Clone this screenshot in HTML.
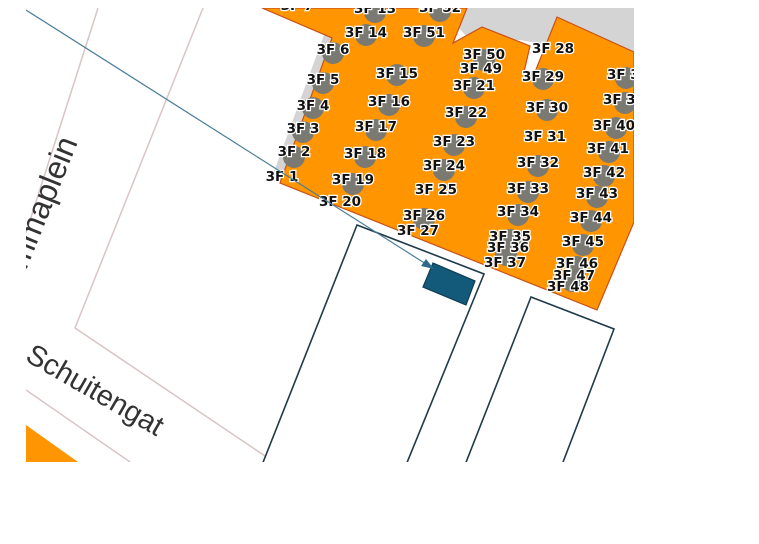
<!DOCTYPE html>
<html><head><meta charset="utf-8"><style>
html,body{margin:0;padding:0;background:#fff;width:759px;height:544px;overflow:hidden}
svg{display:block}
.l{font-family:"DejaVu Sans","Liberation Sans",sans-serif;font-weight:bold;font-size:13.5px;fill:#111;stroke:#fff;stroke-width:2.5px;paint-order:stroke;text-anchor:middle;dominant-baseline:central}
</style></head><body>
<svg width="759" height="544" viewBox="0 0 759 544" xmlns="http://www.w3.org/2000/svg">
<defs><clipPath id="c"><rect x="26" y="8" width="608" height="454"/></clipPath></defs>
<g clip-path="url(#c)">
<rect x="26" y="8" width="608" height="454" fill="#fff"/>
<g stroke="#d9c4c4" stroke-width="1.5" fill="none">
<line x1="26" y1="233" x2="98" y2="8"/>
<polyline points="203,8 75,328 265,456"/>
<line x1="26" y1="390" x2="130" y2="462"/>
</g>
<text x="0" y="0" transform="translate(78,142) rotate(-68)" font-family="Liberation Sans,sans-serif" font-size="32" fill="#333" text-anchor="end">Ammaplein</text>
<text x="0" y="0" transform="translate(24,360) rotate(30)" font-family="Liberation Sans,sans-serif" font-size="29" fill="#333">Schuitengat</text>
<polygon points="26,425 26,462 78,462" fill="#ff9500"/>
<polygon points="440,8 634,8 634,60 520,40 470,40" fill="#d4d4d4"/>
<polygon points="324,35 332,38 280,183 271,180" fill="#d4d4d4"/>
<polygon points="262,8 332,38 280,183 597,310 634,222 634,52 557,17 535,72 524,72 530,46 482,27 453,43 467,8" fill="#ff9500" stroke="#c8501a" stroke-width="1.2"/>
<g fill="#7a7a72">
<circle cx="375" cy="12" r="11"/><circle cx="440" cy="11" r="11"/><circle cx="366" cy="35" r="11"/><circle cx="424" cy="36" r="11"/><circle cx="333" cy="53" r="11"/><circle cx="484" cy="60" r="11"/><circle cx="323" cy="83" r="11"/><circle cx="397" cy="75" r="11"/><circle cx="474" cy="88" r="11"/><circle cx="543" cy="79" r="11"/><circle cx="626" cy="78" r="11"/><circle cx="313" cy="108" r="11"/><circle cx="389" cy="105" r="11"/><circle cx="466" cy="117" r="11"/><circle cx="547" cy="110" r="11"/><circle cx="625" cy="103" r="11"/><circle cx="303" cy="132" r="11"/><circle cx="376" cy="130" r="11"/><circle cx="454" cy="145" r="11"/><circle cx="616" cy="128" r="11"/><circle cx="294" cy="157" r="11"/><circle cx="365" cy="157" r="11"/><circle cx="444" cy="170" r="11"/><circle cx="538" cy="166" r="11"/><circle cx="609" cy="152" r="11"/><circle cx="353" cy="184" r="11"/><circle cx="528" cy="192" r="11"/><circle cx="604" cy="176" r="11"/><circle cx="597" cy="197" r="11"/><circle cx="424" cy="219" r="11"/><circle cx="518" cy="215" r="11"/><circle cx="591" cy="221" r="11"/><circle cx="510" cy="240" r="11"/><circle cx="583" cy="245" r="11"/><circle cx="506" cy="255" r="11"/><circle cx="577" cy="267" r="11"/><circle cx="572" cy="281" r="11"/>
</g>
<g class="l">
<text x="297" y="6">3F 7</text><text x="375" y="9">3F 13</text><text x="440" y="8">3F 52</text>
<text x="366" y="33">3F 14</text><text x="424" y="33">3F 51</text><text x="333" y="50">3F 6</text>
<text x="484" y="55">3F 50</text><text x="553" y="49">3F 28</text><text x="481" y="69">3F 49</text>
<text x="323" y="80">3F 5</text><text x="397" y="74">3F 15</text><text x="474" y="86">3F 21</text>
<text x="543" y="77">3F 29</text><text x="628" y="75">3F 38</text>
<text x="313" y="106">3F 4</text><text x="389" y="102">3F 16</text><text x="466" y="113">3F 22</text>
<text x="547" y="108">3F 30</text><text x="624" y="100">3F 39</text>
<text x="303" y="129">3F 3</text><text x="376" y="127">3F 17</text><text x="454" y="142">3F 23</text>
<text x="545" y="137">3F 31</text><text x="614" y="126">3F 40</text>
<text x="294" y="152">3F 2</text><text x="365" y="154">3F 18</text><text x="444" y="166">3F 24</text>
<text x="538" y="163">3F 32</text><text x="608" y="149">3F 41</text>
<text x="282" y="177">3F 1</text><text x="353" y="180">3F 19</text><text x="436" y="190">3F 25</text>
<text x="528" y="189">3F 33</text><text x="604" y="173">3F 42</text><text x="597" y="194">3F 43</text>
<text x="340" y="202">3F 20</text><text x="424" y="216">3F 26</text><text x="518" y="212">3F 34</text>
<text x="591" y="218">3F 44</text><text x="418" y="231">3F 27</text><text x="510" y="237">3F 35</text>
<text x="583" y="242">3F 45</text><text x="508" y="248">3F 36</text><text x="505" y="263">3F 37</text>
<text x="577" y="264">3F 46</text><text x="574" y="276">3F 47</text><text x="568" y="287">3F 48</text>
</g>
<g fill="#fff" stroke="#1f3a4a" stroke-width="1.6">
<polygon points="357,225 484,274 404,470 260,470"/>
<polygon points="531,297 614,329 560,470 463,470"/>
</g>
<polygon points="433,263 475,281 466,305 423,287" fill="#135a7a" stroke="#0d3a50" stroke-width="1.2"/>
<line x1="26" y1="10" x2="426" y2="264" stroke="#4a7d9a" stroke-width="1.2"/>
<polygon points="434,269 421,266 426,259" fill="#2e6a8a"/>
</g>
</svg>
</body></html>
